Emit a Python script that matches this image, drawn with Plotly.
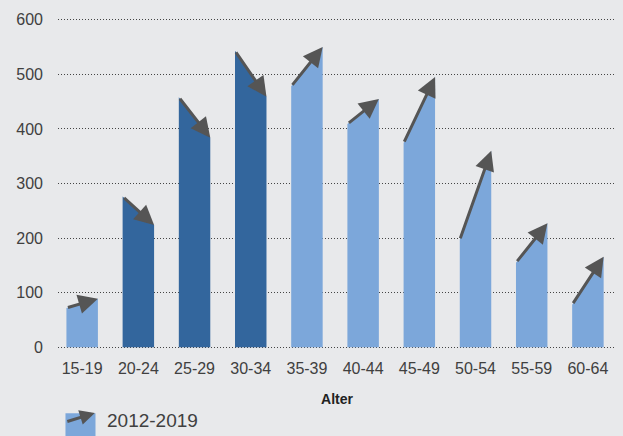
import plotly.graph_objects as go

ages = ["15-19", "20-24", "25-29", "30-34", "35-39",
        "40-44", "45-49", "50-54", "55-59", "60-64"]
v2012 = [72, 276, 458, 543, 478, 409, 374, 197, 155, 78]
v2019 = [89, 224, 384, 459, 550, 455, 495, 360, 227, 166]
legend_label = "2012-2019"

BG = "#e8e9eb"
LIGHT = "#7ca7da"
DARK = "#33669d"
ARROW = "#555555"
TXT = "#404040"
half = 0.28  # half bar width in category units


def outline(idx):
    # one closed trapezoid per age group, separated by None
    xs, ys = [], []
    for i in idx:
        xs += [i - half, i - half, i + half, i + half, i - half, None]
        ys += [0, v2012[i], v2019[i], 0, 0, None]
    return xs, ys


up = [i for i in range(len(ages)) if v2019[i] >= v2012[i]]
down = [i for i in range(len(ages)) if v2019[i] < v2012[i]]

fig = go.Figure()
for idx, col in [(up, LIGHT), (down, DARK)]:
    xs, ys = outline(idx)
    fig.add_trace(go.Scatter(x=xs, y=ys, mode="lines", fill="toself",
                             fillcolor=col, line=dict(width=0),
                             hoverinfo="skip", showlegend=False))

# arrows 2012 -> 2019 on top of each bar
for i in range(len(ages)):
    fig.add_annotation(x=i + half, y=v2019[i], ax=i - half, ay=v2012[i],
                       xref="x", yref="y", axref="x", ayref="y",
                       text="", showarrow=True, arrowhead=2, arrowsize=1.3,
                       arrowwidth=3, arrowcolor=ARROW, standoff=0)

# manual legend: blue box with arrow + label
fig.add_shape(type="rect", xref="paper", yref="paper",
              x0=0.0134, x1=0.0672, y0=-0.26, y1=-0.19,
              fillcolor=LIGHT, line=dict(width=0))
fig.add_annotation(xref="paper", yref="paper", x=0.066, y=-0.189,
                   axref="pixel", ayref="pixel", ax=-29, ay=9,
                   text="", showarrow=True, arrowhead=2, arrowsize=1.0,
                   arrowwidth=3, arrowcolor=ARROW, standoff=0)
fig.add_annotation(xref="paper", yref="paper", x=0.084, y=-0.213,
                   xanchor="left", yanchor="middle", showarrow=False,
                   text=legend_label, font=dict(size=19, color=TXT))

fig.update_layout(
    width=623, height=436,
    margin=dict(l=58, r=7, t=17, b=86),
    paper_bgcolor=BG, plot_bgcolor=BG,
    font=dict(family="Liberation Sans, Arial, sans-serif", size=16, color=TXT),
    showlegend=False,
)
fig.update_xaxes(range=[-0.43, 9.5], tickmode="array",
                 tickvals=list(range(len(ages))), ticktext=ages,
                 showgrid=False, zeroline=False, showline=False,
                 automargin=False, ticklabelstandoff=7,
                 title=dict(text="<b>Alter</b>", font=dict(size=14, color="#222"),
                            standoff=18))
fig.update_yaxes(range=[-5, 605], tickvals=[0, 100, 200, 300, 400, 500, 600],
                 showgrid=True, gridcolor="#444444", griddash="1px,2px",
                 gridwidth=1, zeroline=False, showline=False,
                 automargin=False, ticklabelstandoff=14)

fig.write_html("out.html", config={"displayModeBar": False},
               post_script="document.body.style.margin='0px';")
